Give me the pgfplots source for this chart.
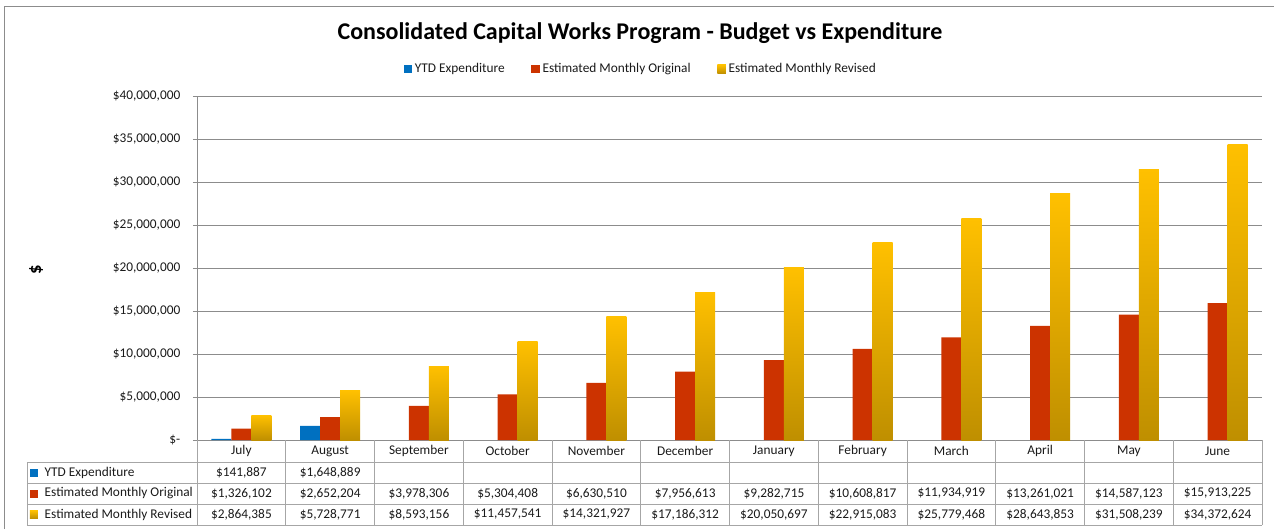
\documentclass[border=0pt]{standalone}
\usepackage{pgfplots}
\pgfplotsset{compat=1.18}
\usepackage{fontspec}
\setmainfont{Carlito}

\definecolor{ytdblue}{HTML}{0070C0}
\definecolor{origred}{HTML}{CC3300}
\definecolor{revtop}{HTML}{FFC000}
\definecolor{revbot}{HTML}{BF8F00}
\definecolor{gridgray}{HTML}{8C8C8C}
\definecolor{tabgray}{HTML}{A6A6A6}
\definecolor{txt}{HTML}{1A1A1A}

% estimated monthly budgets (cumulative), index 0 = July
\pgfplotstableread{
idx orig rev
0 1326102 2864385
1 2652204 5728771
2 3978306 8593156
3 5304408 11457541
4 6630510 14321927
5 7956613 17186312
6 9282715 20050697
7 10608817 22915083
8 11934919 25779468
9 13261021 28643853
10 14587123 31508239
11 15913225 34372624
}\budget

\pgfplotsset{
  sqlegend/.style={legend image code/.code={\fill[##1] (0pt,-3.2pt) rectangle (6.4pt,3.2pt);}},
  revbar/.style={draw=none, top color=revtop, bottom color=revbot},
}

\begin{document}
\begin{tikzpicture}[font=\fontsize{10}{12}\selectfont, text=txt]
\begin{axis}[
    at={(0,0)}, anchor=south west,
    scale only axis, width=798.75pt, height=258pt,
    xmin=-0.5, xmax=11.5, ymin=0, ymax=40000000,
    xtick=\empty,
    ytick={0,5e6,1e7,1.5e7,2e7,2.5e7,3e7,3.5e7,4e7},
    yticklabels={\$-,{\$5,000,000},{\$10,000,000},{\$15,000,000},{\$20,000,000},{\$25,000,000},{\$30,000,000},{\$35,000,000},{\$40,000,000}},
    scaled y ticks=false,
    axis lines*=left, axis line style={-, gridgray},
    ymajorgrids, grid style={gridgray, line width=0.5pt},
    tick align=outside, major tick length=3pt, ytick style={gridgray},
    ticklabel style={font=\fontsize{10}{12}\selectfont, text=txt},
    yticklabel style={xshift=-6pt},
    ybar, bar width=0.225,
    clip=false,
    legend columns=3,
    legend style={at={(axis description cs:0.417,1.078)}, anchor=center, draw=none,
        font=\fontsize{10}{12}\selectfont, text=txt,
        /tikz/every even column/.append style={column sep=18pt}},
]
\addplot[fill=ytdblue, draw=none, bar shift=-0.225, sqlegend] coordinates {(0,141887) (1,1648889)};
\addplot[fill=origred, draw=none, bar shift=0, sqlegend] table[x=idx, y=orig] {\budget};
\addlegendimage{revbar, sqlegend}
% one plot per month so that every bar gets its own gradient
\pgfplotsinvokeforeach{0,...,11}{
  \addplot[revbar, bar shift=0.225, forget plot, restrict x to domain=#1:#1] table[x=idx, y=rev] {\budget};
}
\legend{YTD Expenditure, Estimated Monthly Original, Estimated Monthly Revised}
\end{axis}

% overlay in reference pixel coordinates (origin top left)
\begin{scope}[shift={(-147.75pt,330pt)}, x=0.75pt, y=-0.75pt]
\useasboundingbox (0,0) rectangle (1274,529);
\draw[gridgray, line width=1pt] (4.3,529) -- (4.3,6.3) -- (1274,6.3);
\node[font=\bfseries\fontsize{18}{21}\selectfont, text=black] at (640,33)
    {Consolidated Capital Works Program - Budget vs Expenditure};
\node[rotate=90, font=\bfseries\fontsize{14}{16}\selectfont, text=black] at (36,270) {\$};

% data table grid
\foreach \y in {462,483,504,525} \draw[tabgray] (27,\y) -- (1262,\y);
\draw[tabgray] (27,462) -- (27,525);
\foreach \k in {0,...,12} \draw[tabgray] ({197+88.75*\k},440) -- ({197+88.75*\k},525);

% table row headers
\fill[ytdblue] (30,468.5) rectangle (38,476.5);
\fill[origred] (30,489.5) rectangle (38,497.5);
\shade[top color=revtop, bottom color=revbot] (30,510.5) rectangle (38,518.5);
\node[anchor=west] at (40,472.5) {YTD Expenditure};
\node[anchor=west] at (40,493.5) {Estimated Monthly Original};
\node[anchor=west] at (40,514.5) {Estimated Monthly Revised};

\foreach \m [count=\i from 0] in {July,August,September,October,November,December,January,February,March,April,May,June}
    \node at ({197+88.75*(\i+0.5)},451) {\m};
\foreach \v [count=\i from 0] in {{\$141,887},{\$1,648,889}}
    \node at ({197+88.75*(\i+0.5)},472.5) {\v};
\foreach \v [count=\i from 0] in {{\$1,326,102},{\$2,652,204},{\$3,978,306},{\$5,304,408},{\$6,630,510},{\$7,956,613},{\$9,282,715},{\$10,608,817},{\$11,934,919},{\$13,261,021},{\$14,587,123},{\$15,913,225}}
    \node at ({197+88.75*(\i+0.5)},493.5) {\v};
\foreach \v [count=\i from 0] in {{\$2,864,385},{\$5,728,771},{\$8,593,156},{\$11,457,541},{\$14,321,927},{\$17,186,312},{\$20,050,697},{\$22,915,083},{\$25,779,468},{\$28,643,853},{\$31,508,239},{\$34,372,624}}
    \node at ({197+88.75*(\i+0.5)},514.5) {\v};
\end{scope}
\end{tikzpicture}
\end{document}
